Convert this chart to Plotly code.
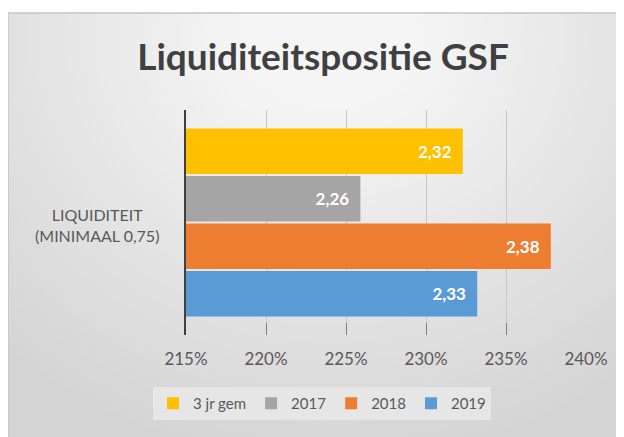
import plotly.graph_objects as go

# ---- data ----
categories = ["LIQUIDITEIT (MINIMAAL 0,75)"]
series_names = ["3 jr gem", "2017", "2018", "2019"]
series_values = [[2.323], [2.259], [2.378], [2.332]]
series_colors = ["#FFC000", "#A5A5A5", "#ED7D31", "#5B9BD5"]
x_ticks = [2.15, 2.20, 2.25, 2.30, 2.35, 2.40]

FONT = "Lato"
OFF = 8  # page body margin offset

fig = go.Figure()
for name, vals, col in zip(series_names, series_values, series_colors):
    fig.add_trace(go.Bar(
        y=categories, x=vals, name=name, orientation="h",
        marker=dict(color=col, line=dict(width=0)),
        texttemplate="%{x:.2f}\u00a0\u00a0", textposition="inside", insidetextanchor="end",
        textfont=dict(color="white", size=17, family=FONT, weight="bold"),
        cliponaxis=False,
    ))

# plot area in page pixels: x 186..586, y 110..335
def xp(px):
    return (px - 186) / 400.0

def yp(py):
    return (335 - py) / 225.0

shapes = []
shapes.append(dict(type="rect", xref="paper", yref="paper", layer="below",
                   x0=xp(8), x1=xp(640), y0=yp(450), y1=yp(13),
                   fillcolor="#d4d4d4", line=dict(width=0)))
steps = 40
for i in range(steps):
    t = i / (steps - 1)
    rx = 470 - 380 * t
    ry = 420 - 350 * t
    c = int(round(0xd5 + (0xf5 - 0xd5) * t))
    col = "#%02x%02x%02x" % (c, c, c)
    shapes.append(dict(type="circle", xref="paper", yref="paper", layer="below",
                       x0=xp(330 - rx), x1=xp(330 + rx), y0=yp(40 + ry), y1=yp(40 - ry),
                       fillcolor=col, line=dict(width=0)))
shapes.append(dict(type="rect", xref="paper", yref="paper", layer="below",
                   x0=xp(-10), x1=xp(640), y0=yp(13), y1=yp(-10),
                   fillcolor="white", line=dict(width=0)))
shapes.append(dict(type="rect", xref="paper", yref="paper", layer="below",
                   x0=xp(-10), x1=xp(8), y0=yp(450), y1=yp(-10),
                   fillcolor="white", line=dict(width=0)))
shapes.append(dict(type="line", xref="paper", yref="paper", layer="below",
                   x0=xp(8), x1=xp(640), y0=yp(13), y1=yp(13),
                   line=dict(color="#c4c4c4", width=1.5)))
shapes.append(dict(type="line", xref="paper", yref="paper", layer="below",
                   x0=xp(8), x1=xp(8), y0=yp(13), y1=yp(450),
                   line=dict(color="#c4c4c4", width=1.5)))

W, H = 624 - OFF, 437 - OFF
fig.update_layout(
    width=W, height=H,
    margin=dict(l=186 - OFF, r=W - (586 - OFF), t=110 - OFF, b=H - (335 - OFF)),
    paper_bgcolor="white", plot_bgcolor="rgba(0,0,0,0)",
    separators=",.",
    barmode="group", bargap=0.155, bargroupgap=0.04,
    font=dict(family=FONT, color="#595959", size=16),
    title=dict(text="<b>Liquiditeitspositie GSF</b>", x=(323 - OFF) / W, xanchor="center",
               y=1 - (57 - OFF) / H, yanchor="middle", yref="container",
               font=dict(family=FONT, size=37, color="#404040")),
    xaxis=dict(range=[x_ticks[0], x_ticks[-1]], tickvals=x_ticks, tickformat=".0%",
               showgrid=True, gridcolor="#c8c8c8", gridwidth=1,
               zeroline=False, showline=False,
               ticks="inside", ticklen=12, tickcolor="#808080",
               tickfont=dict(size=17, color="#595959"), ticklabelstandoff=12),
    yaxis=dict(autorange="reversed", showticklabels=False, showgrid=False,
               showline=True, linecolor="#404040", linewidth=2, zeroline=False),
    legend=dict(orientation="h", x=xp(153), y=yp(387), xanchor="left", yanchor="top",
                bgcolor="#e6e6e6", font=dict(size=15, color="#595959"),
                itemwidth=30, traceorder="normal", tracegroupgap=0),
    shapes=shapes,
    annotations=[dict(text=categories[0].replace(" (", "<br>("), xref="paper", yref="paper",
                      x=xp(97), y=yp(225), xanchor="center", yanchor="middle",
                      showarrow=False, align="center",
                      font=dict(size=16, color="#595959", family=FONT))],
)

fig.write_html("out.html")
